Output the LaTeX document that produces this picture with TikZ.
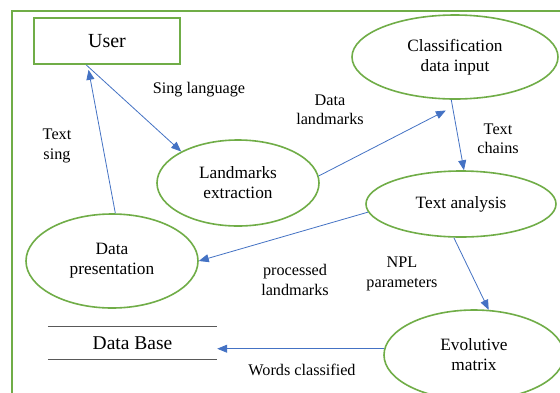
\documentclass[tikz,border=0pt]{standalone}
\usepackage{fontspec}
\setmainfont{Liberation Serif}
\usetikzlibrary{shapes.geometric,arrows.meta,calc}
\definecolor{frgreen}{HTML}{70AD47}
\definecolor{arblue}{HTML}{4472C4}
\begin{document}
\begin{tikzpicture}[x=1pt,y=-1pt,
  proc/.style={ellipse,draw=frgreen,line width=1.6pt,inner sep=0pt,align=center,font=\fontsize{17.3}{20}\selectfont},
  userbox/.style={rectangle,draw=frgreen,line width=1.8pt,inner sep=0pt,minimum width=146pt,minimum height=46pt,font=\fontsize{20}{24}\selectfont},
  flow/.style={draw=arblue,line width=0.8pt,-{Triangle[length=10pt,width=8pt]}},
  lbl/.style={align=center,font=\fontsize{16.2}{19.5}\selectfont}]
\useasboundingbox (0,0) rectangle (560,392);
\clip (0,0) rectangle (560,392);
\fill[white] (0,0) rectangle (560,392);
% outer frame
\draw[frgreen,line width=1.6pt] (12,11) rectangle (620,440);
% nodes
\node[userbox] (user) at (107,41) {User};
\node[proc,minimum width=162pt,minimum height=86pt] (lm) at (238,183) {Landmarks\\extraction};
\node[proc,minimum width=206pt,minimum height=84pt] (cdi) at (455,57) {Classification\\data input};
\node[proc,minimum width=190pt,minimum height=66pt] (ta) at (461,204) {Text analysis};
\node[proc,minimum width=172pt,minimum height=94pt] (dp) at (112,261) {Data\\presentation};
\node[proc,minimum width=180pt,minimum height=90pt] (em) at (474,355) {Evolutive\\matrix};
\node[minimum width=169pt,minimum height=32pt,inner sep=0pt,font=\fontsize{19.5}{23}\selectfont] (db) at (132.5,343) {Data Base};
\draw[gray!70!black,line width=1pt] (db.north west) -- (db.north east);
\draw[gray!70!black,line width=1pt] (db.south west) -- (db.south east);
% connectors
\draw[flow] (user.-131) -- (lm.151);
\draw[flow,shorten >=5pt] (dp.86) -- (user.-129);
\draw[flow,shorten >=24pt] (lm.5) -- (cdi.-74.5);
\draw[flow] (cdi.-95.4) -- (ta.85);
\draw[flow] (ta.185) -- (dp.0);
\draw[flow] (ta.-102) -- (em.72);
\draw[flow] (em.176) -- (em.176 -| db.east);
% labels
\node[lbl] (l1) at (199,90) {Sing language};
\node[lbl] (l2) at (57,146) {Text\\sing};
\node[lbl] (l3) at (330,110) {Data\\landmarks};
\node[lbl] (l4) at (498,139) {Text\\chains};
\node[lbl] (l5) at (295,280) {processed\\landmarks};
\node[lbl] (l6) at (402,274) {NPL\\parameters};
\node[lbl] (l7) at (302,370) {Words classified};
\end{tikzpicture}
\end{document}
